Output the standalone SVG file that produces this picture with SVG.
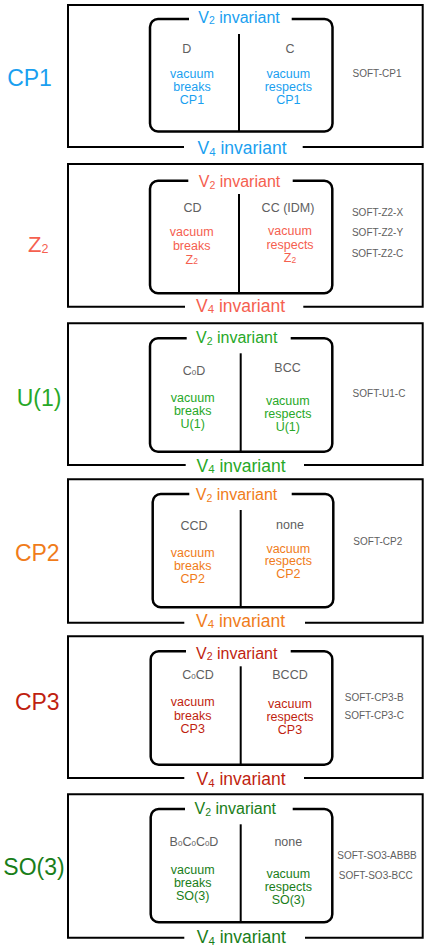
<svg xmlns="http://www.w3.org/2000/svg" width="433" height="949" viewBox="0 0 433 949">
<style>
text{font-family:"Liberation Sans",Arial,Helvetica,sans-serif}
.ob{fill:none;stroke:#000;stroke-width:2}
.ib{fill:none;stroke:#000;stroke-width:2.5;stroke-linejoin:round}
.dv{fill:none;stroke:#000;stroke-width:2}
.big{font-size:23px;text-anchor:middle}
.v2{font-size:16px;text-anchor:middle}
.v4{font-size:17.5px;text-anchor:middle}
.lbl{font-size:12.5px;fill:#606060;text-anchor:middle}
.vac{font-size:12.5px;text-anchor:middle}
.soft{font-size:10px;fill:#606060;text-anchor:middle}
.c1{fill:#1A9FF0}.c2{fill:#F5604F}.c3{fill:#27A827}.c4{fill:#F07C1A}.c5{fill:#BF1F10}.c6{fill:#197E19}
</style>

<g id="panel-cp1">
<path class="ob" d="M184 147 H68 V5 H422.7 V147 H302.7"/>
<path class="ib" d="M189 19 H158 A8 8 0 0 0 150 27 V123.5 A8 8 0 0 0 158 131.5 H324.5 A8 8 0 0 0 332.5 123.5 V27 A8 8 0 0 0 324.5 19 H291.7"/>
<path class="dv" d="M239 34 V131.5"/>
<text class="v2 c1" x="239" y="22.7">V<tspan font-size="10.5" dy="1.5">2</tspan><tspan dy="-1.5"> invariant</tspan></text>
<text class="v4 c1" x="242" y="154">V<tspan font-size="11.5" dy="1.5">4</tspan><tspan dy="-1.5"> invariant</tspan></text>
<text class="big c1" x="29.5" y="86">CP1</text>
<text class="lbl" x="186.7" y="53.3">D</text>
<text class="lbl" x="290" y="53.3">C</text>
<text class="vac c1" x="192"><tspan x="192" y="77.7">vacuum</tspan><tspan x="192" y="91.3">breaks</tspan><tspan x="192" y="104.3">CP1</tspan></text>
<text class="vac c1" x="288.3"><tspan x="288.3" y="77.7">vacuum</tspan><tspan x="288.3" y="91.3">respects</tspan><tspan x="288.3" y="104.3">CP1</tspan></text>
<text class="soft" x="377" y="76.7">SOFT-CP1</text>
</g>

<g id="panel-z2">
<path class="ob" d="M185 306.7 H68 V164 H422.7 V306.7 H303.3"/>
<path class="ib" d="M188.3 180.7 H158 A8 8 0 0 0 150 188.7 V285.3 A8 8 0 0 0 158 293.3 H324.3 A8 8 0 0 0 332.3 285.3 V188.7 A8 8 0 0 0 324.3 180.7 H292.7"/>
<path class="dv" d="M239 194 V293.3"/>
<text class="v2 c2" x="239.5" y="187.3">V<tspan font-size="10.5" dy="1.5">2</tspan><tspan dy="-1.5"> invariant</tspan></text>
<text class="v4 c2" x="240.5" y="311.7">V<tspan font-size="11.5" dy="1.5">4</tspan><tspan dy="-1.5"> invariant</tspan></text>
<text class="c2" x="28" y="252.3" font-size="22">Z<tspan font-size="12.5" dy="1">2</tspan></text>
<text class="lbl" x="192.5" y="211.7">CD</text>
<text class="lbl" x="288" y="211.7">CC (IDM)</text>
<text class="vac c2"><tspan x="191.7" y="236">vacuum</tspan><tspan x="191.7" y="249.8">breaks</tspan><tspan x="191.7" y="263.5">Z<tspan font-size="8.5" dy="0.5">2</tspan></tspan></text>
<text class="vac c2"><tspan x="290" y="235">vacuum</tspan><tspan x="290" y="248.5">respects</tspan><tspan x="290" y="262">Z<tspan font-size="8.5" dy="0.5">2</tspan></tspan></text>
<text class="soft" x="377.5" y="216">SOFT-Z2-X</text>
<text class="soft" x="377.5" y="236">SOFT-Z2-Y</text>
<text class="soft" x="377.5" y="256.7">SOFT-Z2-C</text>
</g>

<g id="panel-u1">
<path class="ob" d="M185.7 465 H68 V323.3 H422.7 V465 H304"/>
<path class="ib" d="M186.7 338.3 H158 A8 8 0 0 0 150 346.3 V443.7 A8 8 0 0 0 158 451.7 H324.3 A8 8 0 0 0 332.3 443.7 V346.3 A8 8 0 0 0 324.3 338.3 H290.7"/>
<path class="dv" d="M240.7 353.3 V451.7"/>
<text class="v2 c3" x="236.7" y="343.3">V<tspan font-size="10.5" dy="1.5">2</tspan><tspan dy="-1.5"> invariant</tspan></text>
<text class="v4 c3" x="241" y="471.7">V<tspan font-size="11.5" dy="1.5">4</tspan><tspan dy="-1.5"> invariant</tspan></text>
<text class="big c3" x="39" y="405.7">U(1)</text>
<text class="lbl" x="194" y="375">C<tspan font-size="8">0</tspan>D</text>
<text class="lbl" x="287.5" y="372.3">BCC</text>
<text class="vac c3"><tspan x="192.7" y="402.3">vacuum</tspan><tspan x="192.7" y="415.3">breaks</tspan><tspan x="192.7" y="428.3">U(1)</tspan></text>
<text class="vac c3"><tspan x="287.8" y="405">vacuum</tspan><tspan x="287.8" y="417.7">respects</tspan><tspan x="287.8" y="430.7">U(1)</tspan></text>
<text class="soft" x="379" y="396.7">SOFT-U1-C</text>
</g>

<g id="panel-cp2">
<path class="ob" d="M184.3 622.7 H68 V479.3 H422.7 V622.7 H305"/>
<path class="ib" d="M189.3 494 H160.7 A8 8 0 0 0 152.7 502 V599.3 A8 8 0 0 0 160.7 607.3 H325.3 A8 8 0 0 0 333.3 599.3 V502 A8 8 0 0 0 325.3 494 H291.7"/>
<path class="dv" d="M240.7 510 V607.3"/>
<text class="v2 c4" x="236.5" y="500">V<tspan font-size="10.5" dy="1.5">2</tspan><tspan dy="-1.5"> invariant</tspan></text>
<text class="v4 c4" x="240.5" y="626.7">V<tspan font-size="11.5" dy="1.5">4</tspan><tspan dy="-1.5"> invariant</tspan></text>
<text class="big c4" x="37.3" y="560.7">CP2</text>
<text class="lbl" x="194" y="530">CCD</text>
<text class="lbl" x="290" y="529.3">none</text>
<text class="vac c4"><tspan x="192.7" y="557.3">vacuum</tspan><tspan x="192.7" y="570.3">breaks</tspan><tspan x="192.7" y="583">CP2</tspan></text>
<text class="vac c4"><tspan x="288.3" y="552.7">vacuum</tspan><tspan x="288.3" y="565.3">respects</tspan><tspan x="288.3" y="578.3">CP2</tspan></text>
<text class="soft" x="377.8" y="545">SOFT-CP2</text>
</g>

<g id="panel-cp3">
<path class="ob" d="M184.3 778 H68 V636.3 H422.7 V778 H304"/>
<path class="ib" d="M186 651.3 H158.7 A8 8 0 0 0 150.7 659.3 V756.7 A8 8 0 0 0 158.7 764.7 H324.3 A8 8 0 0 0 332.3 756.7 V659.3 A8 8 0 0 0 324.3 651.3 H290.7"/>
<path class="dv" d="M240.7 666.3 V764.7"/>
<text class="v2 c5" x="236.7" y="658.7">V<tspan font-size="10.5" dy="1.5">2</tspan><tspan dy="-1.5"> invariant</tspan></text>
<text class="v4 c5" x="241" y="785.3">V<tspan font-size="11.5" dy="1.5">4</tspan><tspan dy="-1.5"> invariant</tspan></text>
<text class="big c5" x="37.3" y="709.7">CP3</text>
<text class="lbl" x="198" y="679">C<tspan font-size="8">0</tspan>CD</text>
<text class="lbl" x="290" y="679">BCCD</text>
<text class="vac c5"><tspan x="192.7" y="706.3">vacuum</tspan><tspan x="192.7" y="719.7">breaks</tspan><tspan x="192.7" y="732.5">CP3</tspan></text>
<text class="vac c5"><tspan x="290" y="708">vacuum</tspan><tspan x="290" y="721.3">respects</tspan><tspan x="290" y="734.3">CP3</tspan></text>
<text class="soft" x="374.2" y="700.7">SOFT-CP3-B</text>
<text class="soft" x="374.2" y="718.7">SOFT-CP3-C</text>
</g>

<g id="panel-so3">
<path class="ob" d="M184.3 937.7 H68 V794.3 H422.7 V937.7 H305"/>
<path class="ib" d="M185 809 H158.7 A8 8 0 0 0 150.7 817 V914.3 A8 8 0 0 0 158.7 922.3 H324.3 A8 8 0 0 0 332.3 914.3 V817 A8 8 0 0 0 324.3 809 H292.7"/>
<path class="dv" d="M240.7 824.3 V922.3"/>
<text class="v2 c6" x="235.3" y="814.3">V<tspan font-size="10.5" dy="1.5">2</tspan><tspan dy="-1.5"> invariant</tspan></text>
<text class="v4 c6" x="241.3" y="943.3">V<tspan font-size="11.5" dy="1.5">4</tspan><tspan dy="-1.5"> invariant</tspan></text>
<text class="big c6" x="34" y="875">SO(3)</text>
<text class="lbl" x="194" y="845.7">B<tspan font-size="8">0</tspan>C<tspan font-size="8">0</tspan>C<tspan font-size="8">0</tspan>D</text>
<text class="lbl" x="288.3" y="845.7">none</text>
<text class="vac c6"><tspan x="192.7" y="874.3">vacuum</tspan><tspan x="192.7" y="887.3">breaks</tspan><tspan x="192.7" y="900.3">SO(3)</tspan></text>
<text class="vac c6"><tspan x="288.3" y="878.3">vacuum</tspan><tspan x="288.3" y="891.3">respects</tspan><tspan x="288.3" y="904.3">SO(3)</tspan></text>
<text class="soft" x="377" y="859">SOFT-SO3-ABBB</text>
<text class="soft" x="375.7" y="879">SOFT-SO3-BCC</text>
</g>
</svg>
